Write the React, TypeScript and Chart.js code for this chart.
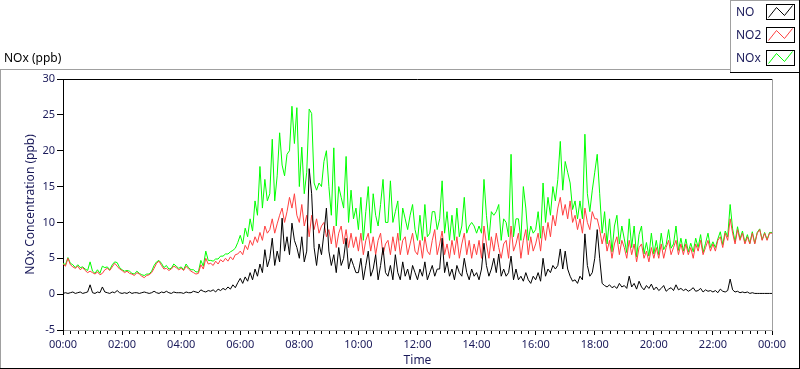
import React, { useEffect, useRef } from "react";
import { Chart, registerables } from "chart.js";
Chart.register(...registerables);

// one value every 5 minutes, 00:00 .. 24:00
const STEP_MINUTES = 5;

const SERIES_NAMES = ["NO", "NO2", "NOx"];
const SERIES_COLORS = ["#000000", "#ff4040", "#00ff00"];

const NO = [
  0.1,0.2,0.1,0.2,0.3,0.1,0.2,0.3,0.1,0.2,0.3,1.3,
  0.2,0.1,0.3,0.2,1.0,0.3,0.2,0.1,0.3,0.2,0.5,0.2,
  0.1,0.2,0.1,0.3,0.1,0.2,0.2,0.1,0.2,0.3,0.2,0.1,
  0.2,0.4,0.2,0.1,0.3,0.2,0.4,0.2,0.1,0.3,0.2,0.2,
  0.2,0.1,0.3,0.2,0.2,0.4,0.3,0.2,0.6,0.4,0.3,0.5,
  0.4,0.6,0.3,0.7,0.5,0.8,0.6,1.0,0.7,1.3,0.9,1.6,
  2.2,1.5,2.4,1.8,3.0,2.0,3.5,2.5,4.2,3.0,6.2,3.8,
  5.0,7.8,4.0,6.0,4.5,10.6,6.0,8.0,5.5,9.9,7.5,6.5,
  5.0,8.0,4.5,6.0,17.5,14.0,6.5,4.0,7.0,5.5,8.5,12.0,
  6.0,4.0,5.5,3.0,6.5,4.0,5.0,7.8,3.5,5.0,4.0,3.0,
  3.0,5.0,2.0,4.0,6.0,2.5,3.5,5.5,2.0,4.0,6.5,3.0,
  2.5,4.0,2.0,5.5,3.0,2.0,4.5,2.5,3.5,2.0,4.0,3.0,
  2.0,3.5,2.5,4.5,2.0,3.0,4.0,2.5,3.5,3.5,7.8,3.0,
  4.5,2.5,3.5,2.0,4.0,3.0,2.5,5.0,3.0,2.0,3.5,2.5,
  3.0,2.0,3.5,7.1,4.0,2.5,3.5,5.0,3.0,5.6,2.5,3.5,
  2.5,3.0,5.3,2.0,3.5,2.0,2.5,1.8,3.0,2.0,1.5,2.5,
  2.0,3.0,1.8,5.0,2.5,3.5,3.0,4.0,3.5,4.0,6.3,3.5,
  6.0,3.5,2.5,1.8,2.0,1.5,2.5,2.0,8.4,4.0,2.5,3.0,
  5.0,9.0,5.0,1.5,1.2,1.0,1.3,0.9,1.1,0.8,1.5,1.0,
  1.2,0.8,2.5,1.0,1.5,0.7,1.8,1.0,0.6,1.2,0.8,1.4,
  0.6,1.0,0.5,0.8,1.2,0.4,0.7,0.9,0.5,1.3,0.6,0.8,
  0.5,0.7,0.4,0.6,0.9,0.4,0.5,0.8,0.3,0.6,0.4,0.5,
  0.3,0.5,0.2,0.7,0.4,0.3,0.5,2.1,0.6,0.3,0.4,0.2,
  0.3,0.2,0.3,0.1,0.2,0.1,0.1,0.1,0.1,0.1,0.1,0.1,
  0.1,
];

const NO2 = [
  4.2,3.9,5.0,4.1,3.8,3.6,3.9,3.4,3.7,3.3,3.0,3.2,
  3.0,2.8,3.1,2.7,2.9,3.4,3.6,3.3,3.8,4.3,3.9,3.5,
  3.3,3.0,3.2,2.9,2.8,2.6,3.0,2.8,2.5,2.3,2.6,2.7,
  3.0,3.6,4.3,4.6,4.0,3.5,3.6,3.3,3.5,3.9,3.7,3.4,
  3.6,3.3,3.9,3.5,3.2,3.0,2.8,2.9,4.1,3.5,5.0,4.2,
  4.3,4.0,4.6,4.2,4.8,4.5,5.0,4.6,5.2,4.8,5.5,5.6,
  6.0,5.5,6.8,6.2,7.5,6.8,8.0,7.2,8.6,7.5,9.5,8.5,
  9.0,10.5,8.5,9.8,11.0,12.0,10.0,11.5,13.5,12.0,14.0,11.0,
  10.0,12.5,9.5,11.0,8.0,11.0,9.0,10.5,8.5,9.5,10.0,8.0,
  9.0,7.0,9.5,6.5,8.5,9.5,7.0,9.0,6.5,8.5,6.5,8.0,
  6.0,8.5,5.5,7.5,8.5,6.0,8.0,5.5,7.5,8.5,5.5,7.0,
  7.5,5.5,8.0,6.0,8.5,5.5,7.5,8.0,5.5,7.0,8.5,6.0,
  5.5,7.5,5.0,8.0,6.0,5.5,7.5,9.0,5.5,7.0,8.8,5.5,
  7.0,5.0,7.5,5.5,8.0,5.0,7.0,8.5,5.5,7.5,5.0,7.0,
  5.5,7.5,5.0,9.5,7.0,5.0,8.0,6.0,8.5,6.5,5.0,7.0,
  7.5,5.0,9.5,6.0,7.0,8.5,5.0,7.5,9.0,5.5,8.0,6.0,
  7.0,8.5,6.0,9.5,7.5,10.0,8.0,11.0,9.5,12.0,13.5,11.0,
  12.5,10.5,13.0,10.0,11.0,9.0,10.5,8.5,12.0,10.0,9.0,11.5,
  10.5,10.5,9.0,7.0,8.5,6.0,7.5,5.0,7.0,8.0,5.5,7.5,
  6.5,5.0,7.5,5.5,7.0,4.5,6.5,7.0,5.0,6.0,4.5,6.5,
  5.0,6.5,5.0,7.0,5.0,6.5,7.5,5.5,6.5,7.5,5.5,7.0,
  5.5,7.0,5.5,6.5,5.0,7.0,6.0,7.5,5.5,6.5,7.5,6.0,
  7.0,6.0,7.5,8.0,6.5,8.5,7.5,10.5,8.5,7.0,9.0,7.5,
  8.5,7.0,8.0,7.0,8.5,7.0,8.5,9.0,7.5,8.5,7.5,8.5,
  8.5,
];

const NOX = [
  4.3,4.1,5.1,4.3,4.1,3.7,4.1,3.7,3.8,3.5,3.3,4.5,
  3.2,2.9,3.4,2.9,3.9,3.7,3.8,3.4,4.1,4.5,4.4,3.7,
  3.4,3.2,3.3,3.2,2.9,2.8,3.2,2.9,2.7,2.6,2.8,2.8,
  3.2,4.0,4.5,4.7,4.3,3.7,4.0,3.5,3.6,4.2,3.9,3.6,
  3.8,3.4,4.2,3.7,3.4,3.4,3.1,3.1,4.7,3.9,6.0,4.7,
  4.7,4.6,4.9,4.9,5.3,5.3,5.6,5.6,5.9,6.1,6.4,7.2,
  8.2,7.0,9.2,8.0,10.5,8.8,13.0,11.0,17.8,12.0,16.0,13.0,
  14.0,21.6,13.0,16.5,22.5,18.0,16.5,19.5,20.0,26.2,21.0,26.0,
  15.0,20.5,14.0,17.0,25.8,25.2,15.5,14.5,15.5,15.0,18.5,20.0,
  15.0,11.0,20.4,9.5,15.0,13.5,12.0,19.2,10.0,14.5,10.5,12.0,
  9.0,13.5,7.5,11.5,15.0,8.5,14.0,11.0,9.5,12.5,16.0,10.0,
  10.0,15.8,10.0,11.5,13.0,7.5,12.0,10.5,9.0,11.0,12.5,9.0,
  7.5,11.0,7.5,12.5,8.0,8.5,11.5,11.5,9.0,10.5,15.8,8.5,
  11.5,7.5,11.0,7.5,12.0,8.0,9.5,13.5,8.5,9.5,10.0,9.5,
  8.5,9.5,8.5,16.0,11.0,7.5,11.5,11.0,11.5,12.5,7.5,10.5,
  10.0,8.0,19.5,8.0,10.5,10.5,7.5,15.0,12.0,7.5,9.5,8.5,
  9.0,11.5,7.8,15.5,10.0,13.5,11.0,15.0,13.0,16.0,21.3,14.5,
  18.5,17.0,15.5,11.8,13.0,10.5,13.0,10.5,22.3,14.0,11.5,14.5,
  17.0,19.5,14.0,8.5,11.5,7.0,10.5,5.9,9.5,11.0,7.0,9.5,
  7.7,5.8,10.5,6.5,9.5,5.2,8.3,9.5,5.6,7.2,5.3,8.5,
  5.6,7.5,5.5,8.5,6.2,6.9,9.0,6.4,7.0,9.5,6.1,7.8,
  6.0,7.7,5.9,7.1,5.9,7.8,6.5,8.3,5.8,7.1,8.5,6.5,
  7.3,6.5,7.7,8.7,6.9,8.8,8.0,12.5,9.1,7.3,9.4,7.7,
  8.8,7.2,8.3,7.1,8.7,7.1,8.6,9.1,7.6,8.6,7.6,8.6,
  8.6,
];

const X_TICK_LABELS = [
  "00:00","02:00","04:00","06:00","08:00","10:00","12:00",
  "14:00","16:00","18:00","20:00","22:00","00:00",
];
const X_MAJOR_STEP = 120; // minutes
const X_MINOR_STEP = 15; // minutes
const Y_MIN = -5;
const Y_MAX = 30;
const Y_STEP = 5;

const FONT = "'Noto Sans', 'DejaVu Sans', sans-serif";
const NAVY = "#1a1a5a";

export default function App() {
  const ref = useRef<HTMLCanvasElement>(null);

  useEffect(() => {
    document.body.style.margin = "0";
    const canvas = ref.current;
    if (!canvas) return;

    const toPoints = (arr: number[]) =>
      arr.map((v, i) => ({ x: i * STEP_MINUTES, y: v }));
    const seriesData = [NO, NO2, NOX];

    const framePlugin = {
      id: "framePlugin",
      beforeDraw(chart: any) {
        const { ctx, width, height } = chart;
        ctx.save();
        ctx.fillStyle = "#ffffff";
        ctx.fillRect(0, 0, width, height);
        ctx.restore();
      },
      afterDraw(chart: any) {
        const { ctx, chartArea: a, scales } = chart;
        const xs = scales.x;
        ctx.save();
        ctx.lineWidth = 1;

        // plot top (black) and right (gray) borders
        ctx.strokeStyle = "#000000";
        ctx.beginPath();
        ctx.moveTo(a.left, Math.round(a.top) + 0.5);
        ctx.lineTo(a.right, Math.round(a.top) + 0.5);
        ctx.stroke();
        ctx.strokeStyle = "#a0a0a0";
        ctx.beginPath();
        ctx.moveTo(Math.round(a.right) + 0.5, a.top);
        ctx.lineTo(Math.round(a.right) + 0.5, a.bottom + 1);
        ctx.stroke();

        // minor x ticks
        ctx.strokeStyle = "#000000";
        for (let t = 0; t <= 1440; t += X_MINOR_STEP) {
          if (t % X_MAJOR_STEP === 0) continue;
          const px = Math.round(xs.getPixelForValue(t)) + 0.5;
          ctx.beginPath();
          ctx.moveTo(px, Math.round(a.bottom) + 1);
          ctx.lineTo(px, Math.round(a.bottom) + 4);
          ctx.stroke();
        }

        // outer frame
        ctx.strokeStyle = "#a0a0a0";
        ctx.beginPath();
        ctx.moveTo(0, 69.5);
        ctx.lineTo(730, 69.5);
        ctx.moveTo(0.5, 69);
        ctx.lineTo(0.5, 369);
        ctx.stroke();
        ctx.strokeStyle = "#000000";
        ctx.beginPath();
        ctx.moveTo(0, 368.5);
        ctx.lineTo(800, 368.5);
        ctx.moveTo(799.5, 72);
        ctx.lineTo(799.5, 369);
        ctx.stroke();

        // legend box
        ctx.strokeStyle = "#a0a0a0";
        ctx.beginPath();
        ctx.moveTo(730.5, 0);
        ctx.lineTo(730.5, 72);
        ctx.moveTo(730, 0.5);
        ctx.lineTo(800, 0.5);
        ctx.stroke();
        ctx.strokeStyle = "#000000";
        ctx.beginPath();
        ctx.moveTo(730, 72.5);
        ctx.lineTo(800, 72.5);
        ctx.moveTo(799.5, 0);
        ctx.lineTo(799.5, 72);
        ctx.stroke();

        ctx.font = `12px ${FONT}`;
        ctx.textBaseline = "middle";
        ctx.textAlign = "left";
        SERIES_NAMES.forEach((name, i) => {
          const cy = 13 + i * 23;
          ctx.fillStyle = NAVY;
          ctx.fillText(name, 736, cy);
          const bx = 766.5, by = cy - 8.5, bw = 28, bh = 15;
          ctx.strokeStyle = "#000000";
          ctx.strokeRect(bx, by, bw, bh);
          ctx.strokeStyle = SERIES_COLORS[i];
          ctx.beginPath();
          ctx.moveTo(bx + 2, by + 13);
          ctx.lineTo(bx + 10, by + 3);
          ctx.lineTo(bx + 18, by + 11);
          ctx.lineTo(bx + 26, by + 1);
          ctx.stroke();
        });

        // graph caption
        ctx.fillStyle = "#000000";
        ctx.fillText("NOx (ppb)", 4, 59);

        // axis titles
        ctx.fillStyle = NAVY;
        ctx.textAlign = "center";
        ctx.fillText("Time", (a.left + a.right) / 2, 361);
        ctx.translate(31, (a.top + a.bottom) / 2);
        ctx.rotate(-Math.PI / 2);
        ctx.fillText("NOx Concentration (ppb)", 0, 0);
        ctx.restore();
      },
    };

    const chart = new Chart(canvas, {
      type: "line",
      data: {
        datasets: SERIES_NAMES.map((name, i) => ({
          label: name,
          data: toPoints(seriesData[i]),
          borderColor: SERIES_COLORS[i],
          backgroundColor: SERIES_COLORS[i],
          borderWidth: 1,
          pointRadius: 0,
          tension: 0,
          fill: false,
        })),
      },
      options: {
        animation: false,
        responsive: false,
        devicePixelRatio: 1,
        layout: { padding: { top: 79, right: 28, left: 0, bottom: 0 } },
        plugins: {
          legend: { display: false },
          tooltip: { enabled: false },
          title: { display: false },
        },
        scales: {
          x: {
            type: "linear",
            min: 0,
            max: 1440,
            afterFit: (s: any) => {
              s.height = 39;
            },
            ticks: {
              stepSize: X_MAJOR_STEP,
              autoSkip: false,
              maxRotation: 0,
              padding: 3,
              color: NAVY,
              font: { family: FONT, size: 11 },
              callback: (v: any) => X_TICK_LABELS[Math.round(Number(v) / X_MAJOR_STEP)],
            },
            grid: {
              drawOnChartArea: false,
              drawTicks: true,
              tickLength: 5,
              tickColor: "#000000",
              color: "#000000",
            },
            border: { color: "#a0a0a0", width: 1 },
          },
          y: {
            min: Y_MIN,
            max: Y_MAX,
            afterFit: (s: any) => {
              s.width = 63;
            },
            ticks: {
              stepSize: Y_STEP,
              padding: 2,
              color: NAVY,
              font: { family: FONT, size: 11 },
            },
            grid: {
              drawOnChartArea: false,
              drawTicks: true,
              tickLength: 6,
              tickColor: "#000000",
              color: "#000000",
            },
            border: { color: "#000000", width: 1 },
          },
        },
      },
      plugins: [framePlugin],
    });

    return () => chart.destroy();
  }, []);

  return (
    <canvas
      ref={ref}
      width={800}
      height={369}
      style={{ display: "block", width: 800, height: 369 }}
    />
  );
}
